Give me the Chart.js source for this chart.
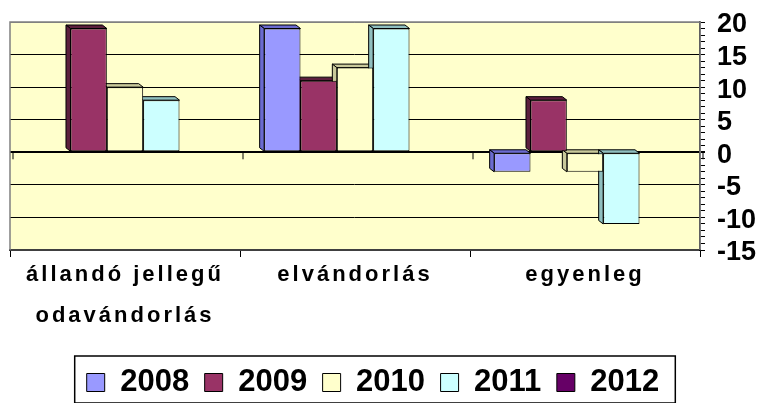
<!DOCTYPE html>
<html lang="hu">
<head>
  <meta charset="UTF-8" />
  <title>Vándorlás</title>
  <script src="https://cdn.jsdelivr.net/npm/chart.js"></script>
  <style>
    html, body { margin: 0; padding: 0; background: #fff; }
    #wrap { width: 764px; height: 403px; }
  </style>
</head>
<body>
  <div id="wrap"><canvas id="chart"></canvas></div>

  <script>
    const categories = [["állandó jellegű", "odavándorlás"], "elvándorlás", "egyenleg"];
    const years = ["2008", "2009", "2010", "2011", "2012"];
    const values2008 = [null, 19, -3];
    const values2009 = [19, 11, 8];
    const values2010 = [10, 13, -3];
    const values2011 = [8, 19, -11];
    const values2012 = [null, null, null];
    const yMin = -15, yMax = 20, yStep = 5;

    const colors = ["#9999ff", "#993366", "#ffffcc", "#ccffff", "#660066"];
    const sideColors = ["#6b6bd0", "#5c1f3d", "#c9c99a", "#8fbfbf", "#3d003d"];
    const series = [values2008, values2009, values2010, values2011, values2012];

    // 3D look: side and top faces behind each bar, frame, legend box
    const depth = { dx: 4.5, dy: 3.5 };
    const decor = {
      id: "decor",
      afterLayout(chart) {
        // legend in the original sits a bit left of centre
        chart.legend.right = 736;
        chart.legend.width = chart.legend.right - chart.legend.left;
      },
      beforeDraw(chart) {
        const { ctx, chartArea: a } = chart;
        ctx.save();
        ctx.fillStyle = "#ffffcc";
        ctx.fillRect(a.left, a.top, a.right - a.left, a.bottom - a.top);
        ctx.restore();
      },
      beforeDatasetsDraw(chart) {
        const { ctx, chartArea: a, scales } = chart;
        ctx.save();
        ctx.strokeStyle = "#808080";
        ctx.lineWidth = 1.5;
        ctx.beginPath();
        ctx.moveTo(a.left, a.bottom);
        ctx.lineTo(a.left, a.top);
        ctx.lineTo(a.right, a.top);
        ctx.lineTo(a.right, a.bottom);
        ctx.stroke();

        // small category ticks on the zero plane
        const y0 = scales.y.getPixelForValue(0);
        ctx.strokeStyle = "#000";
        ctx.lineWidth = 1;
        ctx.beginPath();
        for (let i = 0; i <= categories.length; i++) {
          const x = scales.x.getPixelForValue(i - 0.5) + 3;
          ctx.moveTo(x, y0);
          ctx.lineTo(x, y0 + 7);
        }
        ctx.stroke();

        chart.data.datasets.forEach((ds, i) => {
          chart.getDatasetMeta(i).data.forEach((bar, j) => {
            if (ds.data[j] == null) return;
            const p = bar.getProps(["x", "y", "base", "width"], true);
            const l = p.x - p.width / 2, r = p.x + p.width / 2;
            const t = Math.min(p.y, p.base), b = Math.max(p.y, p.base);
            ctx.fillStyle = sideColors[i];
            ctx.beginPath();
            ctx.moveTo(l, t);
            ctx.lineTo(r, t);
            ctx.lineTo(r - depth.dx, t - depth.dy);
            ctx.lineTo(l - depth.dx, t - depth.dy);
            ctx.closePath();
            ctx.fill();
            ctx.stroke();
            ctx.beginPath();
            ctx.moveTo(l, t);
            ctx.lineTo(l - depth.dx, t - depth.dy);
            ctx.lineTo(l - depth.dx, b - depth.dy);
            ctx.lineTo(l, b);
            ctx.closePath();
            ctx.fill();
            ctx.stroke();
          });
        });
        ctx.restore();
      },
      afterDatasetsDraw(chart) {
        // category labels are spaced out in the original
        chart.ctx.letterSpacing = "3px";
      },
      afterDraw(chart) {
        const ctx = chart.ctx;
        ctx.letterSpacing = "0px";
        const hb = chart.legend.legendHitBoxes;
        if (!hb || !hb.length) return;
        const last = hb[hb.length - 1];
        const left = hb[0].left - 12;
        const right = last.left + last.width + 16;
        const top = hb[0].top - 11;
        const bottom = hb[0].top + hb[0].height + 5;
        ctx.save();
        ctx.strokeStyle = "#000";
        ctx.lineWidth = 1.5;
        ctx.strokeRect(left, top, right - left, bottom - top);
        ctx.restore();
      }
    };

    new Chart(document.getElementById("chart"), {
      type: "bar",
      data: {
        labels: categories,
        datasets: years.map((y, i) => ({
          label: y,
          data: series[i],
          backgroundColor: colors[i],
          borderColor: "#000",
          borderWidth: 1,
          borderSkipped: false,
          categoryPercentage: 0.79,
          barPercentage: 1
        }))
      },
      options: {
        responsive: true,
        maintainAspectRatio: false,
        animation: false,
        layout: { padding: { top: 22, left: 10, right: 0, bottom: -5 } },
        plugins: {
          tooltip: { enabled: false },
          legend: {
            position: "bottom",
            labels: {
              color: "#000",
              boxWidth: 18,
              boxHeight: 18,
              padding: 15.5,
              font: { family: "'Liberation Sans', Arial, sans-serif", size: 31, weight: "bold" }
            }
          }
        },
        scales: {
          x: {
            grid: { display: true, drawOnChartArea: false, tickLength: 7, color: "#000" },
            border: { display: true, color: "#404040", width: 2 },
            ticks: {
              z: 1,
              padding: -3,
              color: "#000",
              maxRotation: 0,
              font: { family: "'Liberation Sans', Arial, sans-serif", size: 22, weight: "bold", lineHeight: "41px" }
            },
            afterFit(scale) { scale.height = 101.5; }
          },
          y: {
            position: "right",
            min: yMin,
            max: yMax,
            grid: {
              tickLength: 5,
              tickColor: "#000",
              color: ctx => {
                const v = ctx.tick.value;
                if (v === yMax) return "#808080";
                return v % yStep === 0 ? "#000" : "rgba(0,0,0,0)";
              },
              lineWidth: ctx => (ctx.tick.value === 0 ? 2 : 1)
            },
            border: { display: true, color: "#000", width: 1.5 },
            ticks: {
              stepSize: 1,
              autoSkip: false,
              padding: 12,
              labelOffset: 3,
              color: "#000",
              font: { family: "'Liberation Sans', Arial, sans-serif", size: 27, weight: "bold" },
              callback: v => (v % yStep === 0 ? v : "")
            },
            afterFit(scale) {
              scale.width = 64;
              scale.paddingTop = 0;
              scale.paddingBottom = 0;
            }
          }
        }
      },
      plugins: [decor]
    });
  </script>
</body>
</html>
